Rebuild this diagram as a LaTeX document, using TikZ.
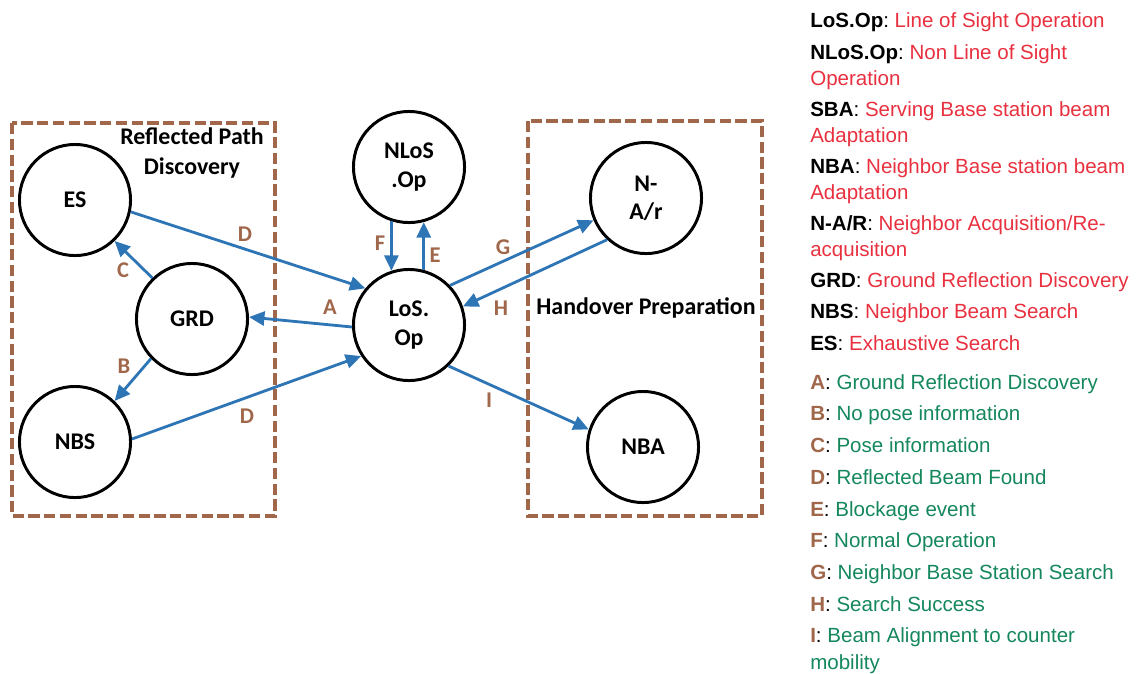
\documentclass[tikz,border=0pt]{standalone}
\usepackage{fontspec}
\setmainfont{Carlito}
\newfontfamily\legendfont{Liberation Sans}
\usetikzlibrary{arrows.meta, positioning}
\definecolor{arrowBlue}{HTML}{2E75B6}
\definecolor{boxBrown}{HTML}{A0674B}
\definecolor{defRed}{HTML}{E8303F}
\definecolor{defGreen}{HTML}{14875C}

\begin{document}
\begin{tikzpicture}[x=0.025cm, y=-0.025cm, >={Triangle[length=11pt, width=10pt]},
    state/.style={circle, draw, line width=2.1pt, minimum size=79pt, inner sep=0pt,
        align=center, font=\bfseries\fontsize{17}{20}\selectfont},
    link/.style={->, arrowBlue, line width=2pt},
    lbl/.style={text=boxBrown, font=\bfseries\fontsize{16}{18}\selectfont, inner sep=0pt},
    groupbox/.style={boxBrown, line width=2.4pt, dash pattern=on 8pt off 3.2pt},
    boxtitle/.style={align=center, font=\bfseries\fontsize{17}{21}\selectfont, inner sep=0pt},
    keytext/.style={anchor=base west, inner sep=0pt, font=\legendfont\fontsize{14.6}{17}\selectfont}]
    \useasboundingbox (0,0) rectangle (1136,673);

    % group boxes
    \draw[groupbox] (12,123) rectangle (275,516);
    \draw[groupbox] (528,121) rectangle (762,516);
    \node[boxtitle] (rpd) at (192,153) {Reflected Path\\Discovery};
    \node[boxtitle] (hop) at (646,308) {Handover Preparation};

    % states
    \node[state] (es) at (75,200) {ES};
    \node[state] (grd) at (192,319) {GRD};
    \node[state] (nbs) at (75,442) {NBS};
    \node[state] (nlos) at (409,167) {NLoS\\.Op};
    \node[state] (los) at (409,325) {LoS.\\Op};
    \node[state] (nar) at (646,198) {N-\\A/r};
    \node[state] (nba) at (643,447) {NBA};

    % transitions
    \draw[link] (es.-12) -- (los.140);
    \draw[link] (los.182) -- (grd.2);
    \draw[link] (grd.134) -- (es.-46);
    \draw[link] (grd.-136) -- (nbs.46);
    \draw[link] (nbs.3) -- (los.-147);
    \draw[link] (nlos.-108) -- (los.108);
    \draw[link] (los.75) -- (nlos.-75);
    \draw[link] (los.44) -- (nar.-157);
    \draw[link] (nar.-133) -- (los.19);
    \draw[link] (los.-46) -- (nba.162);

    \node[lbl] (labD1) at (245,234) {D};
    \node[lbl] (labA) at (330,307) {A};
    \node[lbl] (labC) at (123,270) {C};
    \node[lbl] (labB) at (124,366) {B};
    \node[lbl] (labD2) at (247,416) {D};
    \node[lbl] (labF) at (380,243) {F};
    \node[lbl] (labE) at (435,255) {E};
    \node[lbl] (labG) at (503,247) {G};
    \node[lbl] (labH) at (501,308) {H};
    \node[lbl] (labI) at (489,400) {I};

    % legend
    \node[keytext] (k1) at (810,27) {\textbf{LoS.Op}:\ \textcolor{defRed}{Line of Sight Operation}};
    \node[keytext] (k2) at (810,59) {\textbf{NLoS.Op}:\ \textcolor{defRed}{Non Line of Sight}};
    \node[keytext] (k2b) at (810,85) {\textcolor{defRed}{Operation}};
    \node[keytext] (k3) at (810,116) {\textbf{SBA}:\ \textcolor{defRed}{Serving Base station beam}};
    \node[keytext] (k3b) at (810,142) {\textcolor{defRed}{Adaptation}};
    \node[keytext] (k4) at (810,173) {\textbf{NBA}:\ \textcolor{defRed}{Neighbor Base station beam}};
    \node[keytext] (k4b) at (810,199) {\textcolor{defRed}{Adaptation}};
    \node[keytext] (k5) at (810,230) {\textbf{N-A/R}:\ \textcolor{defRed}{Neighbor Acquisition/Re-}};
    \node[keytext] (k5b) at (810,256) {\textcolor{defRed}{acquisition}};
    \node[keytext] (k6) at (810,287) {\textbf{GRD}:\ \textcolor{defRed}{Ground Reflection Discovery}};
    \node[keytext] (k7) at (810,318) {\textbf{NBS}:\ \textcolor{defRed}{Neighbor Beam Search}};
    \node[keytext] (k8) at (810,350) {\textbf{ES}:\ \textcolor{defRed}{Exhaustive Search}};

    \node[keytext] (t1) at (810,389) {\textcolor{boxBrown}{\textbf{A}}:\ \textcolor{defGreen}{Ground Reflection Discovery}};
    \node[keytext] (t2) at (810,420) {\textcolor{boxBrown}{\textbf{B}}:\ \textcolor{defGreen}{No pose information}};
    \node[keytext] (t3) at (810,452) {\textcolor{boxBrown}{\textbf{C}}:\ \textcolor{defGreen}{Pose information}};
    \node[keytext] (t4) at (810,484) {\textcolor{boxBrown}{\textbf{D}}:\ \textcolor{defGreen}{Reflected Beam Found}};
    \node[keytext] (t5) at (810,516) {\textcolor{boxBrown}{\textbf{E}}:\ \textcolor{defGreen}{Blockage event}};
    \node[keytext] (t6) at (810,547) {\textcolor{boxBrown}{\textbf{F}}:\ \textcolor{defGreen}{Normal Operation}};
    \node[keytext] (t7) at (810,579) {\textcolor{boxBrown}{\textbf{G}}:\ \textcolor{defGreen}{Neighbor Base Station Search}};
    \node[keytext] (t8) at (810,611) {\textcolor{boxBrown}{\textbf{H}}:\ \textcolor{defGreen}{Search Success}};
    \node[keytext] (t9) at (810,642) {\textcolor{boxBrown}{\textbf{I}}:\ \textcolor{defGreen}{Beam Alignment to counter}};
    \node[keytext] (t9b) at (810,669) {\textcolor{defGreen}{mobility}};
\end{tikzpicture}
\end{document}
